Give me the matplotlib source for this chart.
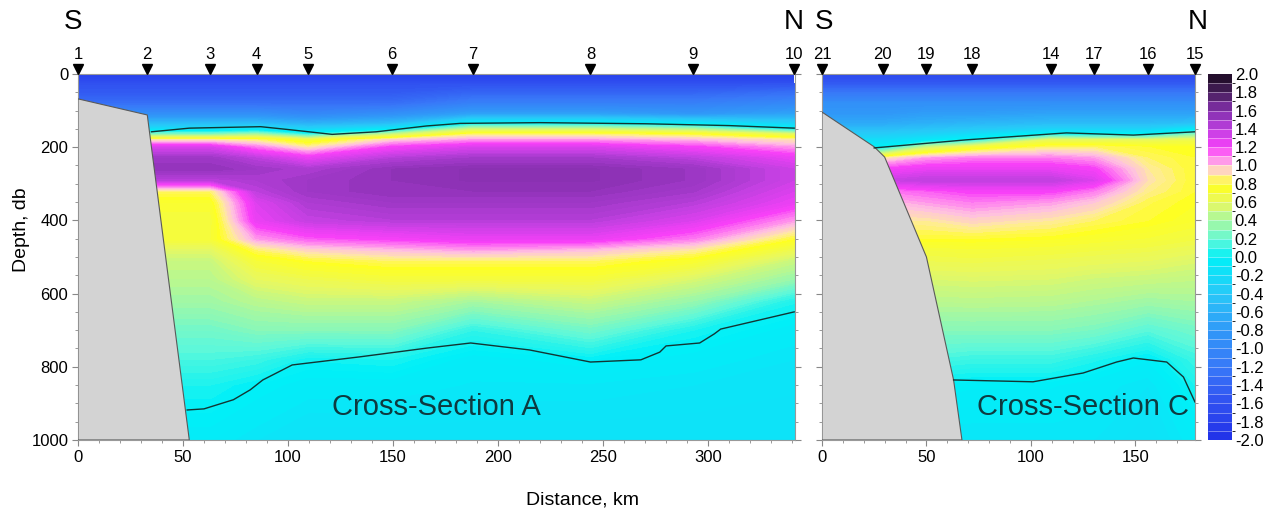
import numpy as np
import matplotlib.pyplot as plt
import matplotlib.cm as cm
from matplotlib.colors import LinearSegmentedColormap, ListedColormap, BoundaryNorm, Normalize
from matplotlib.ticker import MultipleLocator

plt.rcParams['font.family'] = ['Liberation Sans', 'DejaVu Sans']

# depth levels of the station profiles (db)
depth = [0, 25, 50, 80, 110, 135, 150, 165, 180, 200, 230, 260, 290, 320, 350,
         400, 450, 480, 510, 560, 620, 700, 780, 850, 1000]

# ---- Cross-section A ----
stations_A = ['1', '2', '3', '4', '5', '6', '7', '8', '9', '10']
dist_A = [0, 33, 63, 85, 109.5, 149.5, 188, 244, 293, 341]
prof_A = [
    [-1.8, -1.6, -1.5, -1.3, -0.9, -0.5, -0.2, 0.3, 0.9, 1.3, 1.5, 1.55, 1.4, 0.85, 0.75, 0.7, 0.72, 0.58, 0.5, 0.45, 0.38, 0.25, 0.15, 0.05, -0.05],
    [-1.8, -1.6, -1.5, -1.3, -0.9, -0.5, -0.2, 0.3, 0.9, 1.3, 1.5, 1.55, 1.4, 0.85, 0.75, 0.7, 0.72, 0.58, 0.5, 0.45, 0.38, 0.25, 0.15, 0.05, -0.05],
    [-1.8, -1.6, -1.5, -1.3, -0.9, -0.5, -0.2, 0.3, 0.9, 1.3, 1.5, 1.55, 1.4, 0.85, 0.75, 0.7, 0.72, 0.58, 0.5, 0.45, 0.38, 0.25, 0.15, 0.05, -0.05],
    [-1.8, -1.6, -1.5, -1.3, -0.9, -0.5, -0.15, 0.4, 0.85, 1.1, 1.4, 1.5, 1.45, 1.4, 1.3, 1.25, 1.05, 0.85, 0.72, 0.6, 0.45, 0.3, 0.12, 0.0, -0.1],
    [-1.8, -1.6, -1.5, -1.3, -1.0, -0.6, -0.3, 0.1, 0.7, 0.9, 1.25, 1.45, 1.5, 1.5, 1.45, 1.38, 1.15, 0.95, 0.8, 0.65, 0.5, 0.3, 0.03, -0.05, -0.15],
    [-1.8, -1.6, -1.5, -1.3, -0.9, -0.5, -0.1, 0.5, 0.95, 1.2, 1.42, 1.55, 1.55, 1.55, 1.5, 1.42, 1.2, 1.0, 0.85, 0.7, 0.5, 0.3, 0.05, -0.05, -0.15],
    [-1.8, -1.6, -1.4, -1.1, -0.7, 0.0, 0.5, 0.85, 1.05, 1.3, 1.48, 1.58, 1.58, 1.55, 1.5, 1.42, 1.25, 1.05, 0.85, 0.7, 0.4, 0.1, -0.05, -0.08, -0.15],
    [-1.8, -1.6, -1.4, -1.1, -0.7, 0.0, 0.5, 0.85, 1.05, 1.3, 1.48, 1.58, 1.58, 1.55, 1.5, 1.42, 1.25, 1.0, 0.85, 0.7, 0.5, 0.25, 0.0, -0.08, -0.15],
    [-1.8, -1.6, -1.4, -1.1, -0.8, -0.1, 0.4, 0.8, 1.0, 1.2, 1.4, 1.52, 1.52, 1.48, 1.42, 1.3, 1.1, 0.9, 0.75, 0.55, 0.35, 0.05, -0.05, -0.1, -0.15],
    [-1.8, -1.6, -1.3, -1.0, -0.7, -0.3, 0.0, 0.6, 0.9, 1.05, 1.25, 1.35, 1.35, 1.3, 1.25, 1.05, 0.8, 0.65, 0.5, 0.35, 0.06, -0.05, -0.1, -0.12, -0.15],
]
shelf_A_dist = [0, 0, 33, 53]
shelf_A_depth = [1000, 68, 112, 1000]
upper_A_dist = [35, 53, 87, 102, 121, 142, 166, 182, 220, 270, 310, 341]
upper_A_depth = [158, 148, 144, 153, 165, 158, 142, 135, 133, 136, 141, 148]
lower_A_dist = [52, 60, 74, 82, 88, 102, 134, 166, 187, 215, 244, 268, 277, 280, 296, 303, 306, 341]
lower_A_depth = [918, 915, 890, 863, 836, 795, 773, 749, 735, 754, 787, 781, 760, 743, 735, 710, 697, 650]

# ---- Cross-section C ----
stations_C = ['21', '20', '19', '18', '14', '17', '16', '15']
dist_C = [0, 29, 50, 72, 109.5, 130, 156, 178.5]
prof_C = [
    [-1.7, -1.5, -1.2, -0.9, -0.8, -0.65, -0.5, -0.35, -0.2, 0.0, 0.9, 1.2, 1.35, 1.1, 1.0, 0.9, 0.8, 0.7, 0.65, 0.55, 0.45, 0.3, 0.15, 0.0, -0.1],
    [-1.7, -1.5, -1.2, -0.9, -0.8, -0.65, -0.5, -0.35, -0.2, 0.0, 0.9, 1.2, 1.35, 1.1, 1.0, 0.9, 0.8, 0.7, 0.65, 0.55, 0.45, 0.3, 0.15, 0.0, -0.1],
    [-1.7, -1.5, -1.2, -0.9, -0.75, -0.6, -0.45, -0.3, -0.1, 0.5, 1.05, 1.25, 1.4, 1.15, 1.05, 0.9, 0.8, 0.7, 0.65, 0.55, 0.45, 0.3, 0.15, 0.0, -0.1],
    [-1.7, -1.5, -1.2, -0.9, -0.75, -0.55, -0.4, -0.2, 0.05, 0.7, 1.1, 1.25, 1.4, 1.2, 1.1, 0.95, 0.8, 0.72, 0.66, 0.56, 0.46, 0.3, 0.12, -0.02, -0.1],
    [-1.7, -1.5, -1.2, -0.9, -0.7, -0.5, -0.3, 0.05, 0.6, 0.85, 1.1, 1.25, 1.4, 1.2, 1.05, 0.9, 0.78, 0.7, 0.64, 0.55, 0.45, 0.3, 0.12, -0.02, -0.1],
    [-1.7, -1.5, -1.2, -0.9, -0.7, -0.5, -0.3, 0.0, 0.6, 0.85, 1.05, 1.2, 1.3, 1.1, 0.98, 0.85, 0.75, 0.68, 0.62, 0.52, 0.42, 0.27, 0.06, -0.05, -0.1],
    [-1.7, -1.5, -1.2, -0.9, -0.7, -0.5, -0.3, 0.0, 0.6, 0.8, 0.85, 0.9, 0.92, 0.88, 0.83, 0.8, 0.72, 0.66, 0.6, 0.5, 0.38, 0.18, -0.02, -0.1, -0.15],
    [-1.7, -1.5, -1.2, -0.9, -0.7, -0.45, -0.1, 0.3, 0.65, 0.78, 0.8, 0.8, 0.8, 0.8, 0.78, 0.75, 0.68, 0.62, 0.56, 0.48, 0.4, 0.25, 0.12, 0.05, -0.05],
]
shelf_C_dist = [0, 0, 25, 30, 50, 63, 67]
shelf_C_depth = [1000, 104, 199, 227, 500, 836, 1000]
upper_C_dist = [25, 69, 117, 149, 178.5]
upper_C_depth = [202, 180, 161, 167, 158]
lower_C_dist = [63, 101, 125, 141, 149, 165, 173, 178.5]
lower_C_depth = [836, 841, 817, 787, 776, 787, 828, 896]

# colour scale
anchors = [(-2.0, '#2030e8'), (-1.6, '#3050f0'), (-1.2, '#3878f8'), (-0.8, '#3098f8'),
           (-0.4, '#28c8f8'), (0.0, '#00f0f8'), (0.2, '#60f8d8'), (0.4, '#a8f8a0'),
           (0.6, '#e8f860'), (0.8, '#ffff20'), (0.9, '#ffeaa0'), (1.0, '#ffc0e0'),
           (1.1, '#ff80f0'), (1.2, '#f840f8'), (1.3, '#e040f0'), (1.4, '#c040e0'),
           (1.5, '#a038c8'), (1.6, '#8830b0'), (1.7, '#682888'), (1.8, '#4a2060'),
           (2.0, '#1a0a1e')]
smooth = LinearSegmentedColormap.from_list(
    'sec', [((v + 2) / 4, c) for v, c in anchors])
levels = np.round(np.linspace(-2, 2, 41), 2)
fine_levels = np.linspace(-2, 2, 161)
band_cmap = ListedColormap(smooth(np.linspace(0.0125, 0.9875, 40)))
band_norm = BoundaryNorm(levels, 40)

fig = plt.figure(figsize=(12.7, 5.18), dpi=100)
axA = fig.add_axes([0.0614, 0.1506, 0.5646, 0.7066])
axC = fig.add_axes([0.6472, 0.1506, 0.2937, 0.7066])
cax = fig.add_axes([0.9512, 0.1506, 0.0189, 0.7066])

panels = [
    (axA, dist_A, prof_A, stations_A, shelf_A_dist, shelf_A_depth,
     upper_A_dist, upper_A_depth, lower_A_dist, lower_A_depth, 341.4, 'Cross-Section A', 0.5),
    (axC, dist_C, prof_C, stations_C, shelf_C_dist, shelf_C_depth,
     upper_C_dist, upper_C_depth, lower_C_dist, lower_C_depth, 178.5, 'Cross-Section C', 0.7),
]

for ax, dist, prof, names, sx, sy, ux, uy, lx, ly, xmax, title, tx in panels:
    values = np.array(prof).T
    ax.contourf(dist, depth, values, levels=fine_levels, cmap=smooth,
                norm=Normalize(-2, 2))
    ax.fill(sx, sy, facecolor='#d3d3d3', edgecolor='#5a5a5a', lw=0.8, zorder=3)
    ax.plot(ux, uy, color='#123533', lw=1.0, zorder=4)
    ax.plot(lx, ly, color='#123533', lw=1.0, zorder=4)

    ax.set_xlim(0, xmax)
    ax.set_ylim(1000, 0)
    ax.xaxis.set_major_locator(MultipleLocator(50))
    ax.xaxis.set_minor_locator(MultipleLocator(10))
    ax.yaxis.set_major_locator(MultipleLocator(200))
    ax.yaxis.set_minor_locator(MultipleLocator(50))
    ax.tick_params(which='both', direction='out', color='#888888', labelsize=12,
                   right=True, pad=3)
    ax.tick_params(which='major', length=4)
    ax.tick_params(which='minor', length=2.5)
    for s in ax.spines.values():
        s.set_color('#999999')
        s.set_linewidth(0.8)

    # station markers and numbers
    tr = ax.get_xaxis_transform()
    ax.plot(dist, [1.014] * len(dist), 'v', color='black', ms=7,
            transform=tr, clip_on=False, zorder=5)
    for d, n in zip(dist, names):
        ax.text(d, 1.052, n, transform=tr, ha='center', va='center', fontsize=12)

    ax.text(tx, 0.09, title, transform=ax.transAxes,
            ha='center', va='center', fontsize=21, color='#0e3a40', zorder=6)

axA.text(-2.5, 1.142, 'S', transform=axA.get_xaxis_transform(), ha='center',
         va='center', fontsize=20)
axA.text(341, 1.142, 'N', transform=axA.get_xaxis_transform(), ha='center',
         va='center', fontsize=20)
axC.text(1, 1.142, 'S', transform=axC.get_xaxis_transform(), ha='center',
         va='center', fontsize=20)
axC.text(180, 1.142, 'N', transform=axC.get_xaxis_transform(), ha='center',
         va='center', fontsize=20)
axC.set_yticklabels([])

cb_ticks = np.round(np.linspace(-2, 2, 21), 1)
cb = fig.colorbar(cm.ScalarMappable(norm=band_norm, cmap=band_cmap), cax=cax,
                  ticks=cb_ticks, drawedges=True)
cb.ax.set_yticklabels([('%.1f' % t).replace('-0.0', '0.0') for t in cb_ticks])
cb.ax.tick_params(length=0, labelsize=12, pad=2)
cb.outline.set_visible(False)
cb.dividers.set_color('white')
cb.dividers.set_alpha(0.45)
cb.dividers.set_linewidth(0.6)

fig.text(582 / 1270, 1 - 500 / 518, 'Distance, km', ha='center', va='center',
         fontsize=14)
fig.text(21 / 1270, 1 - 230 / 518, 'Depth, db', ha='center', va='center',
         rotation=90, fontsize=14)

fig.savefig('out.png', dpi=100)
